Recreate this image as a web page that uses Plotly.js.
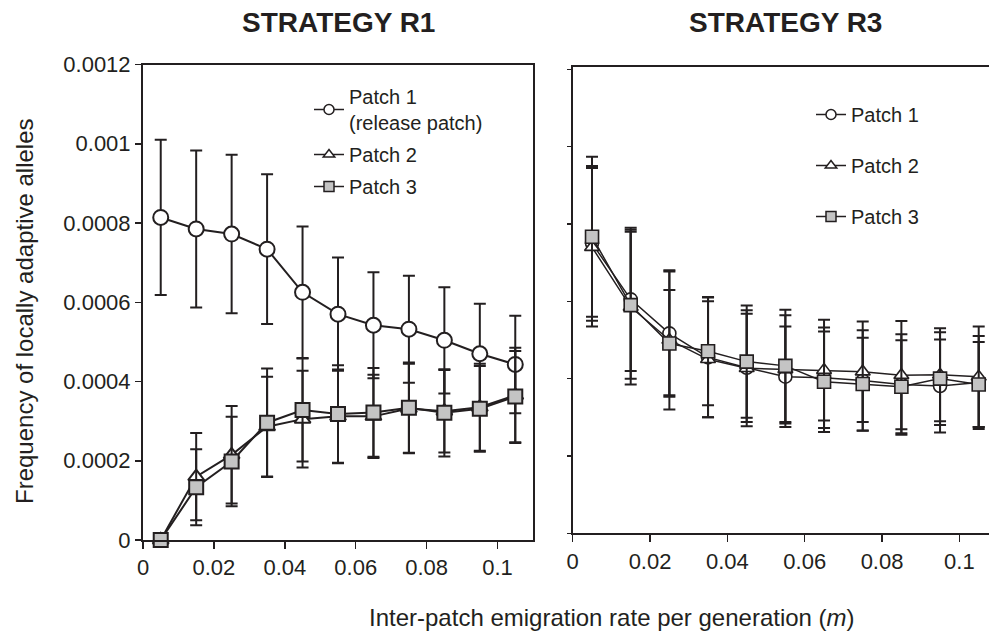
<!DOCTYPE html>
<html>
<head>
<meta charset="utf-8">
<script src="https://cdn.plot.ly/plotly-3.0.1.min.js"></script>
<style>html,body{margin:0;padding:0;background:#fff}#chart{width:989px;height:635px}</style>
</head>
<body>
<div id="chart"></div>
<script>
// emigration rates (m)
const mValues = [0.005, 0.015, 0.025, 0.035, 0.045, 0.055, 0.065, 0.075, 0.085, 0.095, 0.105];

// STRATEGY R1
const r1Patch1 = [0.000814, 0.000785, 0.000772, 0.000734, 0.000625, 0.000570, 0.000542, 0.000532, 0.000504, 0.000470, 0.000443];
const r1Patch1Err = [0.000196, 0.000198, 0.000200, 0.000189, 0.000166, 0.000143, 0.000134, 0.000135, 0.000134, 0.000126, 0.000123];
const r1Patch2 = [0, 0.000160, 0.000215, 0.000286, 0.000305, 0.000312, 0.000312, 0.000332, 0.000325, 0.000335, 0.000365];
const r1Patch2Err = [0, 0.000110, 0.000123, 0.000126, 0.000122, 0.000118, 0.000105, 0.000113, 0.000104, 0.000110, 0.000120];
const r1Patch3 = [0, 0.000133, 0.000198, 0.000296, 0.000328, 0.000318, 0.000322, 0.000334, 0.000321, 0.000331, 0.000362];
const r1Patch3Err = [0, 0.000096, 0.000113, 0.000137, 0.000130, 0.000123, 0.000112, 0.000114, 0.000110, 0.000108, 0.000115];

// STRATEGY R3
const r3Patch1 = [0.000750, 0.000605, 0.000517, 0.000455, 0.000428, 0.000405, 0.000402, 0.000395, 0.000385, 0.000381, 0.000390];
const r3Patch1Err = [0.000200, 0.000185, 0.000160, 0.000155, 0.000140, 0.000130, 0.000130, 0.000130, 0.000130, 0.000120, 0.000120];
const r3Patch2 = [0.000740, 0.000585, 0.000500, 0.000450, 0.000427, 0.000424, 0.000422, 0.000418, 0.000409, 0.000410, 0.000405];
const r3Patch2Err = [0.000205, 0.000200, 0.000180, 0.000150, 0.000150, 0.000140, 0.000130, 0.000130, 0.000140, 0.000120, 0.000130];
const r3Patch3 = [0.000767, 0.000590, 0.000491, 0.000471, 0.000444, 0.000433, 0.000392, 0.000386, 0.000379, 0.000400, 0.000385];
const r3Patch3Err = [0.000207, 0.000190, 0.000138, 0.000140, 0.000145, 0.000145, 0.000130, 0.000120, 0.000120, 0.000120, 0.000110];

const r1Names = ["Patch 1<br>(release patch)", "Patch 2", "Patch 3"];
const r3Names = ["Patch 1", "Patch 2", "Patch 3"];
const panelTitles = ["STRATEGY R1", "STRATEGY R3"];
const xTitle = "Inter-patch emigration rate per generation (<i>m</i>)";
const yTitle = "Frequency of locally adaptive alleles";
const xTickVals = [0, 0.02, 0.04, 0.06, 0.08, 0.1];
const xTickText = ["0", "0.02", "0.04", "0.06", "0.08", "0.1"];
const yTickVals = [0, 0.0002, 0.0004, 0.0006, 0.0008, 0.001, 0.0012];
const yTickText = ["0", "0.0002", "0.0004", "0.0006", "0.0008", "0.001", "0.0012"];

const INK = "#231f20";
const GREY = "#c4c4c4";
const FONT = "Liberation Sans, Arial, Helvetica, sans-serif";

const symbols = ["circle", "triangle-up", "square"];
const fills = ["#ffffff", "#ffffff", GREY];

function series(x, y, err, i, xa, ya, big) {
  const sizes = big ? [15, 14, 14] : [13, 13, 13];
  return {
    type: "scatter", mode: "lines+markers", x: x, y: y,
    xaxis: xa, yaxis: ya, showlegend: false, cliponaxis: false,
    line: {color: INK, width: big ? 2 : 1.5},
    marker: {symbol: symbols[i], size: sizes[i], color: fills[i], line: {color: INK, width: big ? 2 : 1.6}},
    error_y: {type: "data", array: err, visible: true, color: INK, thickness: 2, width: 6}
  };
}
function legendItem(name, i, xa, ya, legend) {
  return {
    type: "scatter", mode: "lines+markers", x: [null], y: [null],
    xaxis: xa, yaxis: ya, name: name, legend: legend, legendgroup: legend + i,
    line: {color: INK, width: 1.5},
    marker: {symbol: symbols[i], size: 10, color: fills[i], line: {color: INK, width: 1.5}}
  };
}

const r1Y = [r1Patch1, r1Patch2, r1Patch3];
const r1E = [r1Patch1Err, r1Patch2Err, r1Patch3Err];
const r3Y = [r3Patch1, r3Patch2, r3Patch3];
const r3E = [r3Patch1Err, r3Patch2Err, r3Patch3Err];

const traces = [];
for (let i = 0; i < 3; i++) traces.push(series(mValues, r1Y[i], r1E[i], i, "x", "y", true));
for (let i = 0; i < 3; i++) traces.push(series(mValues, r3Y[i], r3E[i], i, "x2", "y2", false));
for (let i = 0; i < 3; i++) traces.push(legendItem(r1Names[i], i, "x", "y", "legend"));
for (let i = 0; i < 3; i++) traces.push(legendItem(r3Names[i], i, "x2", "y2", "legend2"));

const W = 989, H = 635;
const px = v => v / W, py = v => 1 - v / H;

const axisCommon = {
  showgrid: false, zeroline: false, showline: true, linecolor: INK,
  ticks: "outside", tickcolor: INK, color: INK,
  tickfont: {family: FONT, size: 22, color: INK}
};

const layout = {
  width: W, height: H,
  margin: {l: 0, r: 0, t: 0, b: 0},
  paper_bgcolor: "#ffffff", plot_bgcolor: "#ffffff",
  font: {family: FONT, color: INK},
  xaxis: Object.assign({}, axisCommon, {
    domain: [px(143), px(533)], range: [0, 0.11], anchor: "y",
    tickvals: xTickVals, ticktext: xTickText, ticklen: 7, tickwidth: 1.5,
    linewidth: 2, mirror: true
  }),
  yaxis: Object.assign({}, axisCommon, {
    domain: [py(540), py(64.5)], range: [0, 0.0012], anchor: "x",
    tickvals: yTickVals, ticktext: yTickText, ticklen: 6, tickwidth: 1.5,
    linewidth: 2, mirror: true
  }),
  xaxis2: Object.assign({}, axisCommon, {
    domain: [px(572.7), 1], range: [0, 0.10766], anchor: "y2",
    tickvals: xTickVals, ticktext: xTickText, ticklen: 7, tickwidth: 1.2,
    linewidth: 1.8, mirror: true
  }),
  yaxis2: Object.assign({}, axisCommon, {
    domain: [py(533.3), py(66.7)], range: [0, 0.0012067], anchor: "x2",
    tickvals: yTickVals, showticklabels: false, ticklen: 4, tickwidth: 1.2,
    linewidth: 1.8, mirror: false
  }),
  legend: {
    x: px(309), xanchor: "left", y: py(77), yanchor: "top",
    bgcolor: "rgba(0,0,0,0)", borderwidth: 0, tracegroupgap: 3,
    font: {family: FONT, size: 20, color: INK}, itemclick: false, itemdoubleclick: false
  },
  legend2: {
    x: px(811), xanchor: "left", y: py(95), yanchor: "top",
    bgcolor: "rgba(0,0,0,0)", borderwidth: 0, tracegroupgap: 22,
    font: {family: FONT, size: 20, color: INK}, itemclick: false, itemdoubleclick: false
  },
  annotations: [
    {text: "<b>" + panelTitles[0] + "</b>", xref: "paper", yref: "paper", x: px(338), y: py(22),
     xanchor: "center", yanchor: "middle", showarrow: false, font: {family: FONT, size: 28, color: INK}},
    {text: "<b>" + panelTitles[1] + "</b>", xref: "paper", yref: "paper", x: px(785), y: py(22),
     xanchor: "center", yanchor: "middle", showarrow: false, font: {family: FONT, size: 28, color: INK}},
    {text: xTitle, xref: "paper", yref: "paper", x: px(612), y: py(617),
     xanchor: "center", yanchor: "middle", showarrow: false, font: {family: FONT, size: 24, color: INK}},
    {text: yTitle, xref: "paper", yref: "paper", x: px(24), y: py(311), textangle: -90,
     xanchor: "center", yanchor: "middle", showarrow: false, font: {family: FONT, size: 24, color: INK}}
  ]
};

Plotly.newPlot("chart", traces, layout, {displayModeBar: false, staticPlot: true});
</script>
</body>
</html>
